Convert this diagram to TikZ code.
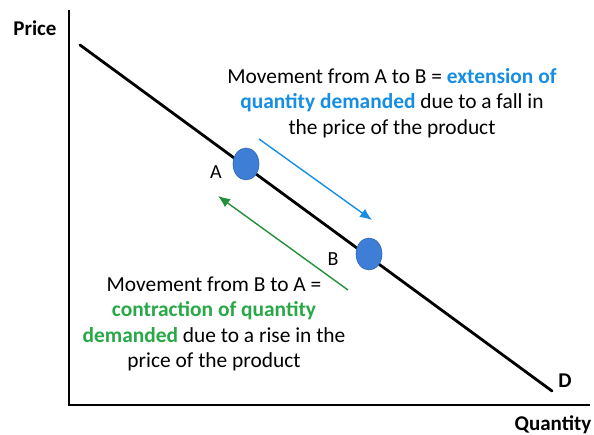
\documentclass[tikz,border=0pt]{standalone}
\usepackage{fontspec}
\setmainfont{Carlito}
\usetikzlibrary{shapes.geometric,arrows.meta}
\definecolor{ptblue}{RGB}{62,126,214}
\definecolor{extblue}{RGB}{22,142,228}
\definecolor{congreen}{RGB}{40,168,70}
\begin{document}
\begin{tikzpicture}[
  x=1pt, y=-1pt,
  axis/.style={line width=2.8pt, black},
  curve/.style={line width=2.8pt, black, line cap=round},
  point/.style={ellipse, fill=ptblue, draw=ptblue!80!black, line width=0.6pt, minimum width=26pt, minimum height=32pt, inner sep=0pt},
  lbl/.style={font=\fontsize{20}{24}\selectfont, inner sep=0pt},
  bold lbl/.style={font=\fontsize{21}{24}\selectfont\bfseries, inner sep=0pt},
  note/.style={align=center, font=\fontsize{21.4}{25.5}\selectfont, inner sep=0pt},
  move/.style={line width=1.4pt, -{Latex[length=12pt, width=10pt]}}
]
  \useasboundingbox (0,0) rectangle (594,435);
  \coordinate (o) at (69,405);
  \coordinate (ytop) at (69,10);
  \coordinate (xend) at (590,405);
  \draw[axis] (ytop) -- (o) -- (xend);
  \node[bold lbl] (price) at (35,28) {Price};
  \node[bold lbl] (qty) at (553,425) {Quantity};
  \coordinate (d0) at (80,45);
  \coordinate (d1) at (552,391);
  \draw[curve] (d0) -- (d1);
  \node[bold lbl] (dlab) at (565,381) {D};
  \node[point] (A) at (246,164) {};
  \node[point] (B) at (369,254) {};
  \node[lbl] (alab) at (216,172) {A};
  \node[lbl] (blab) at (333,259) {B};
  \coordinate (b0) at (259,139);
  \coordinate (b1) at (372,220);
  \draw[move, extblue] (b0) -- (b1);
  \coordinate (g0) at (348,290);
  \coordinate (g1) at (218,196);
  \draw[move, congreen!85!black] (g0) -- (g1);
  \node[note] (ext) at (392,103) {Movement from A to B = \textcolor{extblue}{\bfseries extension of}\\
    \textcolor{extblue}{\bfseries quantity demanded} due to a fall in\\
    the price of the product};
  \node[note] (con) at (214,324) {Movement from B to A =\\
    \textcolor{congreen}{\bfseries contraction of quantity}\\
    \textcolor{congreen}{\bfseries demanded} due to a rise in the\\
    price of the product};
\end{tikzpicture}
\end{document}
